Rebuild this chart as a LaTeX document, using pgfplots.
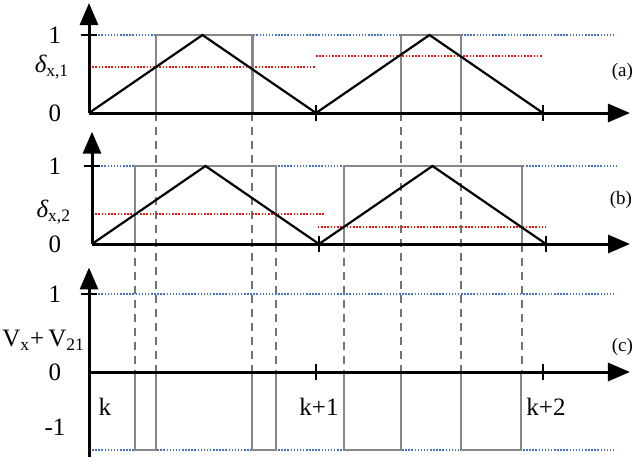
\documentclass[border=0pt]{standalone}
\usepackage{pgfplots}
\pgfplotsset{compat=1.18}
\usepackage{fontspec}
\setmainfont{Liberation Serif}
\usetikzlibrary{arrows.meta}

\definecolor{levelblue}{RGB}{68,114,196}
\definecolor{levelred}{RGB}{240,20,20}
\definecolor{pulsegray}{RGB}{135,135,135}
\definecolor{guidegray}{RGB}{115,115,115}

\tikzset{
    lbl/.style={font=\fontsize{12.5}{14}\selectfont, inner sep=0pt},
    tag/.style={font=\fontsize{9.5}{11}\selectfont, inner sep=0pt},
}

% 1 px of the reference = 0.5pt; one switching period = 227 px, one unit = 78 px
\pgfplotsset{
    timing panel/.style={
            x=113.5pt, y=39pt,
            xmin=0, xmax=2.383,
            enlargelimits=false,
            axis lines=middle,
            axis on top,
            axis line style={line width=1.5pt, -{Triangle[length=11pt,width=9pt]}},
            xtick={1,2}, ytick={1},
            xticklabels={,,}, yticklabels={,,},
            major tick length=8pt, tick align=center,
            tick style={black, line width=1pt},
            clip=false,
            anchor=origin,
        },
    carrier/.style={black, line width=1.1pt},
    pulse/.style={pulsegray, line width=1.3pt},
    guide/.style={guidegray, line width=1pt, dash pattern=on 4pt off 3pt},
    bluedots/.style={levelblue, line width=0.75pt, dash pattern=on 0.75pt off 0.8pt},
    reddots/.style={levelred, line width=0.9pt, dash pattern=on 0.8pt off 0.8pt},
}

\begin{document}
\begin{tikzpicture}
    \useasboundingbox (0,0) rectangle (317.5pt,-230.5pt);

    % ---------- (a) duty cycle of leg x, first carrier ----------
    \begin{axis}[timing panel, at={(44.5pt,-56.5pt)}, ymin=0, ymax=1.41]
        \addplot[bluedots] coordinates {(0,1) (2.32,1)};
        \addplot[reddots] coordinates {(0,0.59) (1,0.59)};
        \addplot[reddots] coordinates {(1,0.73) (2,0.73)};
        % switching instants carried down to panel (c)
        \addplot[guide] coordinates {(0.295,0) (0.295,-3.32)};
        \addplot[guide] coordinates {(0.72,0) (0.72,-3.32)};
        \addplot[guide] coordinates {(1.374,0) (1.374,-3.32)};
        \addplot[guide] coordinates {(1.639,0) (1.639,-3.32)};
        \addplot[pulse] coordinates {(0.295,0) (0.295,1) (0.72,1) (0.72,0)};
        \addplot[pulse] coordinates {(1.374,0) (1.374,1) (1.639,1) (1.639,0)};
        \addplot[carrier] coordinates {(0,0) (0.5,1) (1,0) (1.5,1) (2,0)};
        \node[lbl] at (axis cs:-0.15,1) {1};
        \node[lbl] at (axis cs:-0.15,0) {0};
        \node[lbl] at (axis cs:-0.163,0.59) {{\itshape δ}\textsubscript{x,1}};
        \node[tag] at (axis cs:2.35,0.53) {(a)};
    \end{axis}

    % ---------- (b) duty cycle of leg x, second carrier ----------
    \begin{axis}[timing panel, at={(46pt,-122pt)}, xmax=2.37, ymin=0, ymax=1.44]
        \addplot[bluedots] coordinates {(0,1) (2.31,1)};
        \addplot[reddots] coordinates {(0,0.385) (1.02,0.385)};
        \addplot[reddots] coordinates {(0.995,0.22) (2.0,0.22)};
        \addplot[guide] coordinates {(0.189,0) (0.189,-1.64)};
        \addplot[guide] coordinates {(0.811,0) (0.811,-1.64)};
        \addplot[guide] coordinates {(1.11,0) (1.11,-1.64)};
        \addplot[guide] coordinates {(1.894,0) (1.894,-1.64)};
        \addplot[pulse] coordinates {(0.189,0) (0.189,1) (0.811,1) (0.811,0)};
        \addplot[pulse] coordinates {(1.11,0) (1.11,1) (1.894,1) (1.894,0)};
        \addplot[carrier] coordinates {(0,0) (0.5,1) (1,0) (1.5,1) (2,0)};
        \node[lbl] at (axis cs:-0.163,1) {1};
        \node[lbl] at (axis cs:-0.163,0) {0};
        \node[lbl] at (axis cs:-0.168,0.41) {{\itshape δ}\textsubscript{x,2}};
        \node[tag] at (axis cs:2.33,0.56) {(b)};
    \end{axis}

    % ---------- (c) resulting voltage ----------
    \begin{axis}[timing panel, at={(44.5pt,-186pt)}, ymin=-1.09, ymax=1.34]
        \addplot[bluedots] coordinates {(0,1) (2.32,1)};
        \addplot[bluedots] coordinates {(0,-1) (2.32,-1)};
        \addplot[pulse] coordinates {(0.203,0) (0.203,-1) (0.295,-1) (0.295,0)};
        \addplot[pulse] coordinates {(0.718,0) (0.718,-1) (0.824,-1) (0.824,0)};
        \addplot[pulse] coordinates {(1.123,0) (1.123,-1) (1.374,-1) (1.374,0)};
        \addplot[pulse] coordinates {(1.639,0) (1.639,-1) (1.903,-1) (1.903,0)};
        \node[lbl] at (axis cs:-0.15,1) {1};
        \node[lbl] at (axis cs:-0.15,0) {0};
        \node[lbl] at (axis cs:-0.15,-0.705) {-1};
        \node[lbl] at (axis cs:-0.2,0.41) {V\textsubscript{x}+\,V\textsubscript{21}};
        \node[lbl] at (axis cs:0.07,-0.45) {k};
        \node[lbl] at (axis cs:1.013,-0.45) {k+1};
        \node[lbl] at (axis cs:2.013,-0.45) {k+2};
        \node[tag] at (axis cs:2.35,0.32) {(c)};
    \end{axis}
\end{tikzpicture}
\end{document}
